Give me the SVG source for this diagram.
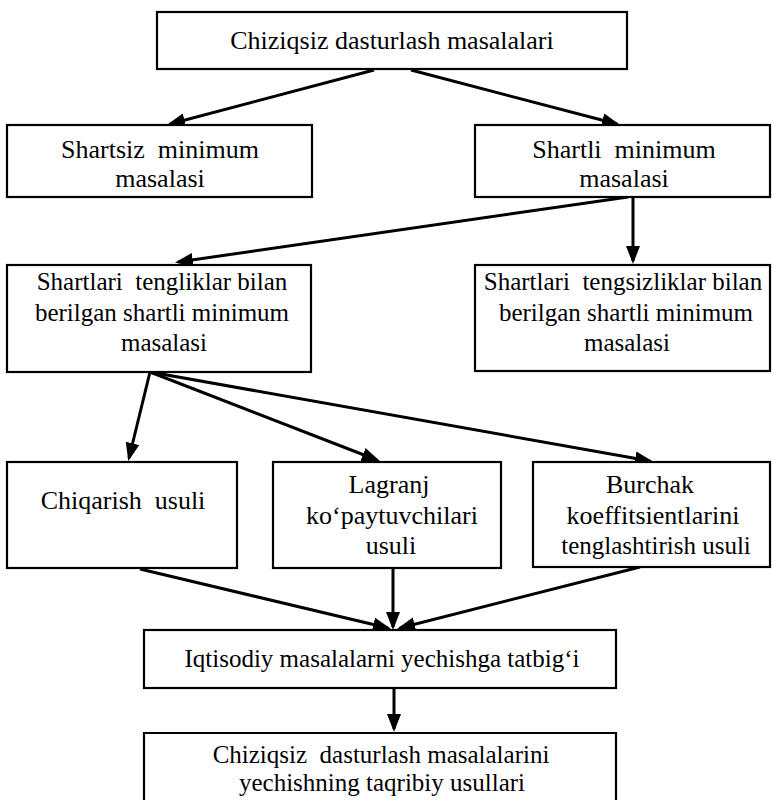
<svg xmlns="http://www.w3.org/2000/svg" width="772" height="800" viewBox="0 0 772 800">
<defs>
  <marker id="ah" markerUnits="userSpaceOnUse" markerWidth="20" markerHeight="16" refX="15" refY="7" orient="auto">
    <path d="M0,0 L18,7 L0,14 z" fill="#000"/>
  </marker>
</defs>
<rect width="772" height="800" fill="#fff"/>

<g id="connectors" fill="none" stroke="#000" stroke-width="3" marker-end="url(#ah)">
  <line x1="374" y1="70" x2="170" y2="124"/>
  <line x1="411" y1="70" x2="617" y2="124"/>
  <line x1="628" y1="197" x2="178" y2="262"/>
  <line x1="633" y1="197" x2="633" y2="261"/>
  <line x1="150" y1="372" x2="129" y2="458"/>
  <line x1="150" y1="372" x2="377" y2="460"/>
  <line x1="150" y1="372" x2="650" y2="461"/>
  <line x1="140" y1="569" x2="388" y2="628"/>
  <line x1="393" y1="568" x2="393" y2="627"/>
  <line x1="640" y1="567" x2="400" y2="628"/>
  <line x1="394" y1="688" x2="394" y2="729"/>
</g>

<g id="n_top">
  <rect x="157" y="12" width="470" height="57" fill="#fff" stroke="#000" stroke-width="2.2"/>
  <text x="392" y="49" text-anchor="middle" font-family="Liberation Serif" font-size="26">Chiziqsiz dasturlash masalalari</text>
</g>

<g id="n_shartsiz">
  <rect x="7" y="125" width="305" height="72" fill="#fff" stroke="#000" stroke-width="2.2"/>
  <text x="160" y="158" text-anchor="middle" font-family="Liberation Serif" font-size="26">Shartsiz&#160; minimum</text>
  <text x="160" y="187" text-anchor="middle" font-family="Liberation Serif" font-size="26">masalasi</text>
</g>

<g id="n_shartli">
  <rect x="475" y="125" width="295" height="72" fill="#fff" stroke="#000" stroke-width="2.2"/>
  <text x="624" y="158" text-anchor="middle" font-family="Liberation Serif" font-size="26">Shartli&#160; minimum</text>
  <text x="624" y="187" text-anchor="middle" font-family="Liberation Serif" font-size="26">masalasi</text>
</g>

<g id="n_tenglik">
  <rect x="7" y="265" width="304" height="107" fill="#fff" stroke="#000" stroke-width="2.2"/>
  <text x="162" y="290" text-anchor="middle" font-family="Liberation Serif" font-size="25">Shartlari&#160; tengliklar bilan</text>
  <text x="162" y="321" text-anchor="middle" font-family="Liberation Serif" font-size="25">berilgan shartli minimum</text>
  <text x="164" y="351" text-anchor="middle" font-family="Liberation Serif" font-size="25">masalasi</text>
</g>

<g id="n_tengsizlik">
  <rect x="475" y="265" width="295" height="106" fill="#fff" stroke="#000" stroke-width="2.2"/>
  <text x="623" y="290" text-anchor="middle" font-family="Liberation Serif" font-size="25">Shartlari&#160; tengsizliklar bilan</text>
  <text x="626" y="321" text-anchor="middle" font-family="Liberation Serif" font-size="25">berilgan shartli minimum</text>
  <text x="627" y="351" text-anchor="middle" font-family="Liberation Serif" font-size="25">masalasi</text>
</g>

<g id="n_chiqarish">
  <rect x="7" y="462" width="230" height="106" fill="#fff" stroke="#000" stroke-width="2.2"/>
  <text x="123" y="509" text-anchor="middle" font-family="Liberation Serif" font-size="26">Chiqarish&#160; usuli</text>
</g>

<g id="n_lagranj">
  <rect x="273" y="462" width="228" height="106" fill="#fff" stroke="#000" stroke-width="2.2"/>
  <text x="389" y="493" text-anchor="middle" font-family="Liberation Serif" font-size="26">Lagranj</text>
  <text x="392" y="524" text-anchor="middle" font-family="Liberation Serif" font-size="26">ko‘paytuvchilari</text>
  <text x="391" y="554" text-anchor="middle" font-family="Liberation Serif" font-size="26">usuli</text>
</g>

<g id="n_burchak">
  <rect x="533" y="462" width="237" height="105" fill="#fff" stroke="#000" stroke-width="2.2"/>
  <text x="650" y="493" text-anchor="middle" font-family="Liberation Serif" font-size="26">Burchak</text>
  <text x="653" y="524" text-anchor="middle" font-family="Liberation Serif" font-size="26">koeffitsientlarini</text>
  <text x="656" y="554" text-anchor="middle" font-family="Liberation Serif" font-size="25">tenglashtirish usuli</text>
</g>

<g id="n_iqtisodiy">
  <rect x="144" y="630" width="472" height="58" fill="#fff" stroke="#000" stroke-width="2.2"/>
  <text x="382" y="667" text-anchor="middle" font-family="Liberation Serif" font-size="25">Iqtisodiy masalalarni yechishga tatbig‘i</text>
</g>

<g id="n_taqribiy">
  <path d="M144,801 V733 H616 V801" fill="#fff" stroke="#000" stroke-width="2.2"/>
  <text x="381" y="763" text-anchor="middle" font-family="Liberation Serif" font-size="25">Chiziqsiz&#160; dasturlash masalalarini</text>
  <text x="382" y="791" text-anchor="middle" font-family="Liberation Serif" font-size="25">yechishning taqribiy usullari</text>
</g>
</svg>
